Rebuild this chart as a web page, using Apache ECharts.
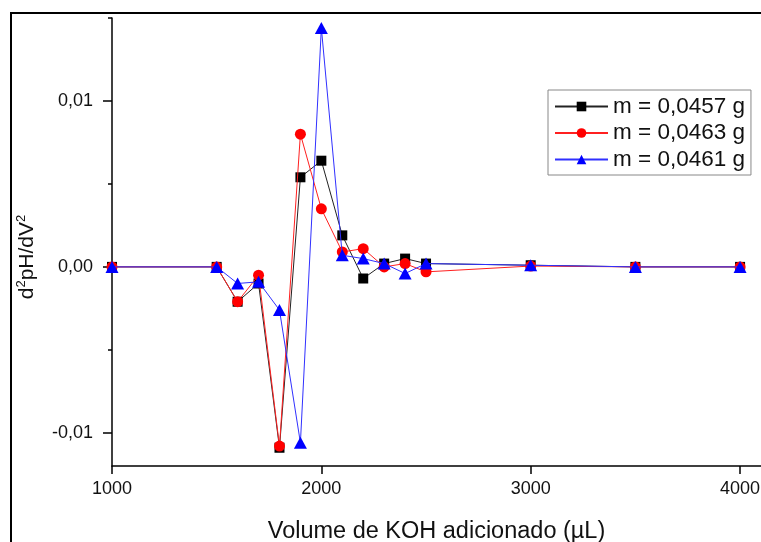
<!DOCTYPE html>
<html>
<head>
<meta charset="utf-8">
<script src="https://cdn.jsdelivr.net/npm/echarts@6/dist/echarts.min.js"></script>
<style>
html,body{margin:0;padding:0;background:#fff;}
#chart{width:761px;height:542px;}
</style>
</head>
<body>
<div id="chart"></div>
<script>
// Volume of KOH added (µL)
const volumes = [1000, 1500, 1600, 1700, 1800, 1900, 2000, 2100, 2200, 2300, 2400, 2500, 3000, 3500, 4000];
// d2pH/dV2 values per sample
const seriesNames = ['m = 0,0457 g', 'm = 0,0463 g', 'm = 0,0461 g'];
const m0457 = [0, 0, -0.0021, -0.0010, -0.0109, 0.0054, 0.0064, 0.0019, -0.0007, 0.0002, 0.0005, 0.0002, 0.0001, 0, 0];
const m0463 = [0, 0, -0.0021, -0.0005, -0.0108, 0.0080, 0.0035, 0.0009, 0.0011, 0.0000, 0.0002, -0.0003, 0.00005, 0, 0];
const m0461 = [0, 0, -0.0010, -0.0009, -0.0026, -0.0106, 0.0144, 0.0007, 0.0005, 0.0002, -0.0004, 0.0002, 0.0001, 0, 0];
const xMajorTicks = [1000, 2000, 3000, 4000];
const xMinorTicks = [1500, 2500, 3500];
const yMajorTicks = [-0.01, 0, 0.01];
const yMinorTicks = [-0.005, 0.005, 0.015];
const xTitle = 'Volume de KOH adicionado (µL)';

const FONT = 'Liberation Sans, Arial, sans-serif';
const pair = (ys) => volumes.map((v, i) => [v, ys[i]]);

const chart = echarts.init(document.getElementById('chart'));
const axisBase = {
  axisLine: { show: true, onZero: false, lineStyle: { color: '#000', width: 1.5 } },
  splitLine: { show: false }
};
chart.setOption({
  animation: false,
  backgroundColor: '#fff',
  grid: { left: 112, right: 0, top: 18, bottom: 76, containLabel: false, outerBoundsMode: 'none' },
  xAxis: [
    Object.assign({}, axisBase, {
      type: 'value', min: 1000, max: 4100, position: 'bottom',
      axisTick: { show: true, inside: false, length: 8, lineStyle: { color: '#000', width: 1.5 }, customValues: xMajorTicks },
      axisLabel: { show: true, customValues: xMajorTicks, margin: 14, fontSize: 18, color: '#111', fontFamily: FONT,
        formatter: (v) => String(Math.round(v)) },
      name: xTitle, nameLocation: 'middle', nameGap: 54,
      nameTextStyle: { fontSize: 23.5, color: '#111', fontFamily: FONT }
    }),
    Object.assign({}, axisBase, {
      type: 'value', min: 1000, max: 4100, position: 'bottom', offset: 0,
      axisLine: { show: false },
      axisTick: { show: true, inside: false, length: 4, lineStyle: { color: '#000', width: 1.5 }, customValues: xMinorTicks },
      axisLabel: { show: false }
    })
  ],
  yAxis: [
    Object.assign({}, axisBase, {
      type: 'value', min: -0.012, max: 0.015, position: 'left',
      axisTick: { show: true, inside: false, length: 9, lineStyle: { color: '#000', width: 1.5 }, customValues: yMajorTicks },
      axisLabel: { show: true, customValues: yMajorTicks, margin: 19, fontSize: 18, color: '#111', fontFamily: FONT,
        formatter: (v) => (Math.abs(v) < 1e-12 ? '0,00' : v.toFixed(2).replace('.', ',')) }
    }),
    Object.assign({}, axisBase, {
      type: 'value', min: -0.012, max: 0.015, position: 'left', offset: 0,
      axisLine: { show: false },
      axisTick: { show: true, inside: false, length: 4, lineStyle: { color: '#000', width: 1.5 }, customValues: yMinorTicks },
      axisLabel: { show: false }
    })
  ],
  legend: {
    left: 548, top: 90, orient: 'vertical',
    padding: [5, 6, 4, 6], itemGap: 3.5, itemWidth: 53, itemHeight: 12,
    backgroundColor: '#fff', borderColor: '#888', borderWidth: 1,
    textStyle: { fontSize: 22.5, color: '#111', fontFamily: FONT, lineHeight: 23 },
    data: seriesNames
  },
  graphic: [
    { type: 'rect', z: 100, silent: true, shape: { x: 11, y: 13, width: 800, height: 600 },
      style: { fill: 'none', stroke: '#000', lineWidth: 2 } },
    { type: 'text', z: 100, x: 27, y: 257, rotation: Math.PI / 2,
      style: {
        text: '{a|d}{s|2}{a|pH/dV}{s|2}',
        textAlign: 'center', textVerticalAlign: 'middle',
        rich: {
          a: { fontSize: 21, fontFamily: FONT, fill: '#111', lineHeight: 24 },
          s: { fontSize: 13, fontFamily: FONT, fill: '#111', verticalAlign: 'top', lineHeight: 24 }
        }
      } }
  ],
  series: [
    { name: seriesNames[0], type: 'line', data: pair(m0457), xAxisIndex: 0, yAxisIndex: 0,
      symbol: 'rect', symbolSize: 10, color: '#000', lineStyle: { color: '#222', width: 1 }, z: 2 },
    { name: seriesNames[1], type: 'line', data: pair(m0463), xAxisIndex: 0, yAxisIndex: 0,
      symbol: 'circle', symbolSize: 11, color: '#ff0000', lineStyle: { color: '#ff2020', width: 1 }, z: 3 },
    { name: seriesNames[2], type: 'line', data: pair(m0461), xAxisIndex: 0, yAxisIndex: 0,
      symbol: 'triangle', symbolSize: [13, 12], color: '#0000ff', lineStyle: { color: '#3030ff', width: 1 }, z: 4 }
  ]
});
</script>
</body>
</html>
